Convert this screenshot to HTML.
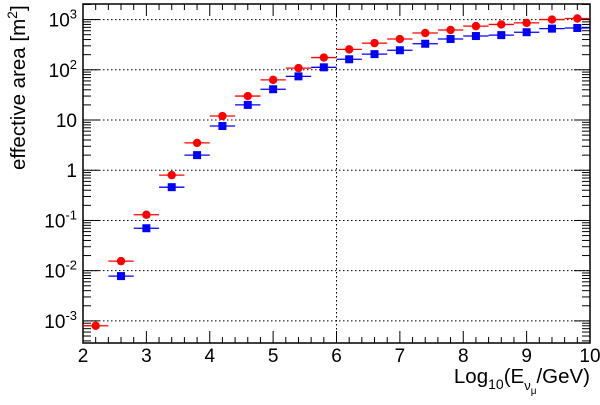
<!DOCTYPE html>
<html><head><meta charset="utf-8"><style>
html,body{margin:0;padding:0;background:#fff;}
svg{display:block;font-family:"Liberation Sans",sans-serif;}
</style></head><body>
<svg id="c" width="600" height="405" viewBox="0 0 600 405">
<text transform="translate(25,170) rotate(-90)" font-size="20.5" text-anchor="start">effective area [m<tspan dy="-8" font-size="14">2</tspan><tspan dy="8">]</tspan></text>
<text x="590" y="383" font-size="20.5" text-anchor="end">Log<tspan dy="6" font-size="14">10</tspan><tspan dy="-6">(E</tspan><tspan dy="7" font-size="13">ν</tspan><tspan dy="4" font-size="10">μ</tspan><tspan dy="-11">/GeV)</tspan></text>
</svg>
<script>
const xCenters=[2.2,2.6,3.0,3.4,3.8,4.2,4.6,5.0,5.4,5.8,6.2,6.6,7.0,7.4,7.8,8.2,8.6,9.0,9.4,9.8];
const redValues=[0.0008,0.0155,0.13,0.8,3.5,12,30,63,108,175,255,340,410,540,620,740,800,860,1000,1050];
const blueX=[2.6,3.0,3.4,3.8,4.2,4.6,5.0,5.4,5.8,6.2,6.6,7.0,7.4,7.8,8.2,8.6,9.0,9.4,9.8];
const blueValues=[0.0078,0.07,0.46,2.0,7.6,20,41,74,112,162,205,245,330,410,470,490,560,660,680];
const xTickLabels=["2","3","4","5","6","7","8","9","10"];
const yDecades=[-3,-2,-1,0,1,2,3];
const L=83,R=590,T=4,B=343;
const X0=2,X1=10,LY0=-3.44,LY1=3.31;
function sx(v){return L+(v-X0)/(X1-X0)*(R-L);}
function sy(v){const l=Math.log10(v);return B-(l-LY0)/(LY1-LY0)*(B-T);}
const svg=document.getElementById('c');
const NS="http://www.w3.org/2000/svg";
function mk(tag,attrs,parent){const e=document.createElementNS(NS,tag);for(const k in attrs)e.setAttribute(k,attrs[k]);(parent||svg).appendChild(e);return e;}
const grid=mk('g',{stroke:'#000','stroke-width':1,'stroke-dasharray':'1.5,2.5'});


yDecades.forEach(d=>{const y=sy(Math.pow(10,d));mk('line',{x1:L,x2:R,y1:y,y2:y},grid);});
mk('line',{x1:sx(6),x2:sx(6),y1:T,y2:B},grid);
const ticks=mk('g',{stroke:'#000','stroke-width':1});


for(let i=0;i<=40;i++){const v=X0+i*0.2;const x=sx(v);const major=i%5===0;const len=major?12:6;
 mk('line',{x1:x,x2:x,y1:B,y2:B-len},ticks);mk('line',{x1:x,x2:x,y1:T,y2:T+len},ticks);}
for(let d=-4;d<=3;d++){for(let m=1;m<=9;m++){const v=m*Math.pow(10,d);const l=Math.log10(v);if(l<LY0||l>LY1)continue;const y=sy(v);const len=m===1?16:8;
 mk('line',{x1:L,x2:L+len,y1:y,y2:y},ticks);mk('line',{x1:R,x2:R-len,y1:y,y2:y},ticks);}}
const fr=mk('rect',{x:L,y:T,width:R-L,height:B-T,fill:'none',stroke:'#000','stroke-width':1.5});


xTickLabels.forEach(t=>{const e=mk('text',{x:sx(+t),y:362,'font-size':19,'text-anchor':'middle'});e.textContent=t;
 
 });
yDecades.forEach(d=>{const y=sy(Math.pow(10,d))+7;let e;
 if(d===0||d===1){e=mk('text',{x:L-6,y:y,'font-size':19,'text-anchor':'end'});e.textContent=d===0?'1':'10';}
 else{e=mk('text',{x:L-6,y:y,'font-size':19,'text-anchor':'end'});e.innerHTML='10<tspan dy="-8" font-size="13">'+d+'</tspan>';}
 
 });
function series(xs,vals,color,shape,name){const g=mk('g',{});
 
 
 xs.forEach((xv,i)=>{const cx=sx(xv),cy=sy(vals[i]);
  mk('line',{x1:sx(xv-0.2),x2:sx(xv+0.2),y1:cy,y2:cy,stroke:color,'stroke-width':1.3},g);
  let p;
  if(shape==='c')p=mk('circle',{cx:cx,cy:cy,r:4.2,fill:color},g);
  else p=mk('rect',{x:cx-4,y:cy-4,width:8,height:8,fill:color},g);
  
  });}
series(blueX,blueValues,'#0000ff','s','blue-series');
series(xCenters,redValues,'#ff0000','c','red-series');
</script>
</body></html>
